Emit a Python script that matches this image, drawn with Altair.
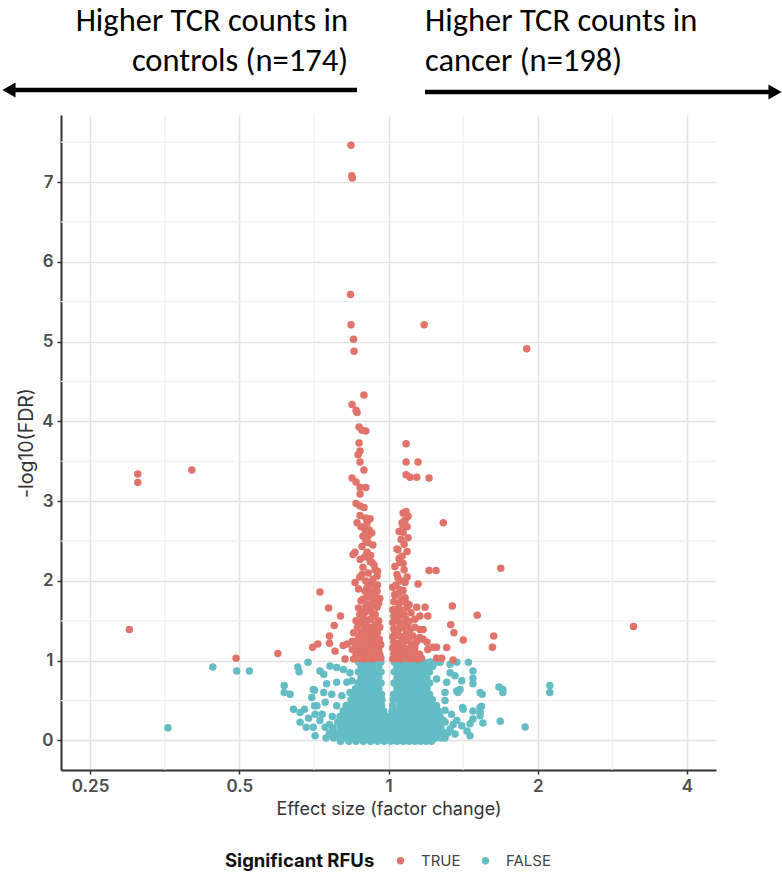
import altair as alt
import pandas as pd

# ---------------- axis breaks / domains ----------------
x_major = [0.25, 0.5, 1, 2, 4]
x_minor = [0.3536, 0.7071, 1.4142, 2.8284]
y_major = [0, 1, 2, 3, 4, 5, 6, 7]
y_minor = [0.5, 1.5, 2.5, 3.5, 4.5, 5.5, 6.5, 7.5]
x_domain = [0.2184, 4.577]
y_domain = [-0.37, 7.84]

sig_levels = ["TRUE", "FALSE"]
sig_colors = ["#E0736A", "#64BDC4"]

# ---------------- significant RFUs (effect size, -log10 FDR) ----------------
sig_top = [
    (0.840, 7.46), (0.843, 7.08), (0.845, 7.05), (0.838, 5.59), (0.840, 5.21),
    (0.850, 5.03), (0.852, 4.88), (1.180, 5.21), (1.900, 4.91),
]
sig_left_stem = [
    (0.892, 4.33), (0.844, 4.21), (0.860, 4.14), (0.864, 4.11), (0.872, 3.93), (0.884, 3.89),
    (0.900, 3.88), (0.872, 3.73), (0.876, 3.63), (0.868, 3.58), (0.876, 3.49), (0.892, 3.39),
    (0.844, 3.29), (0.860, 3.24), (0.876, 3.17), (0.900, 3.17), (0.876, 3.09), (0.860, 2.97),
    (0.876, 2.94), (0.892, 2.92), (0.876, 2.82), (0.900, 2.79), (0.918, 2.78),
    (0.864, 2.73), (0.905, 2.73), (0.913, 2.64), (0.897, 2.64), (0.888, 2.56), (0.909, 2.56),
    (0.909, 2.48), (0.884, 2.43), (0.856, 2.36), (0.905, 2.36), (0.848, 2.33), (0.909, 2.31),
    (0.876, 2.27), (0.918, 2.24), (0.926, 2.23), (0.888, 2.17), (0.939, 2.14), (0.948, 2.06),
    (0.884, 2.08), (0.856, 1.98), (0.918, 1.96), (0.939, 1.92), (0.897, 1.87), (0.918, 1.86),
    (0.948, 1.87), (0.888, 1.77), (0.930, 1.77), (0.909, 1.71), (0.948, 1.67), (0.884, 1.61),
    (0.918, 1.52), (0.876, 1.48), (0.897, 1.39), (0.939, 1.43), (0.876, 1.31), (0.930, 1.31),
    (0.909, 1.23), (0.856, 1.24), (0.953, 1.18), (0.888, 1.14), (0.844, 1.24), (0.825, 1.21),
    (0.850, 1.02), (0.870, 1.03), (0.890, 1.02), (0.910, 1.03), (0.930, 1.02), (0.950, 1.04),
    (0.965, 1.03), (0.860, 1.08), (0.880, 1.10), (0.900, 1.09), (0.920, 1.08), (0.940, 1.10),
    (0.960, 1.08), (0.845, 1.14), (0.870, 1.15), (0.910, 1.16), (0.935, 1.15), (0.955, 1.14),
    (0.860, 1.20), (0.885, 1.22), (0.900, 1.20), (0.925, 1.21), (0.945, 1.22), (0.965, 1.20),
    (0.870, 1.28), (0.890, 1.30), (0.915, 1.27), (0.940, 1.29), (0.958, 1.27), (0.850, 1.35),
    (0.880, 1.36), (0.905, 1.35), (0.925, 1.37), (0.950, 1.35), (0.865, 1.42), (0.895, 1.44),
    (0.915, 1.42), (0.940, 1.45), (0.960, 1.42), (0.860, 1.50), (0.890, 1.53), (0.905, 1.50),
    (0.930, 1.55), (0.955, 1.50), (0.875, 1.58), (0.895, 1.60), (0.920, 1.62), (0.940, 1.58),
    (0.870, 1.66), (0.900, 1.68), (0.925, 1.70), (0.955, 1.72), (0.880, 1.75), (0.905, 1.80),
    (0.935, 1.82), (0.960, 1.78), (0.870, 1.90), (0.905, 1.92), (0.950, 1.95), (0.900, 2.00),
    (0.930, 2.02), (0.875, 2.05), (0.910, 2.10), (0.950, 2.12), (0.935, 2.20), (0.895, 2.30),
    (0.920, 2.32), (0.930, 2.45), (0.900, 2.50), (0.925, 2.60), (0.880, 2.68),
]
sig_right_stem = [
    (1.085, 3.72), (1.085, 3.49), (1.147, 3.49), (1.085, 3.33), (1.105, 3.30), (1.140, 3.30),
    (1.207, 3.29), (1.085, 2.87), (1.095, 2.81), (1.070, 2.68),
    (1.065, 2.73), (1.090, 2.68), (1.070, 2.61), (1.095, 2.54), (1.075, 2.46), (1.045, 2.39),
    (1.090, 2.37), (1.065, 2.31), (1.055, 2.23), (1.075, 2.14), (1.045, 2.04), (1.080, 1.98),
    (1.055, 1.89), (1.030, 1.83), (1.080, 1.79), (1.050, 1.71), (1.090, 1.67), (1.040, 1.58),
    (1.085, 1.52), (1.055, 1.43), (1.030, 1.36), (1.105, 1.39), (1.070, 1.27), (1.040, 1.18),
    (1.115, 1.21), (1.140, 1.67), (1.157, 1.56), (1.130, 1.52), (1.174, 1.39), (1.157, 1.29),
    (1.196, 1.23), (1.230, 1.17),
    (1.020, 1.02), (1.040, 1.03), (1.060, 1.02), (1.080, 1.04), (1.100, 1.02), (1.120, 1.03),
    (1.140, 1.02), (1.165, 1.03), (1.025, 1.09), (1.050, 1.10), (1.070, 1.08), (1.090, 1.10),
    (1.110, 1.09), (1.130, 1.11), (1.155, 1.08), (1.020, 1.16), (1.045, 1.15), (1.065, 1.17),
    (1.085, 1.15), (1.105, 1.16), (1.130, 1.17), (1.025, 1.23), (1.050, 1.22), (1.075, 1.24),
    (1.095, 1.25), (1.140, 1.24), (1.020, 1.30), (1.040, 1.32), (1.060, 1.30), (1.085, 1.33),
    (1.120, 1.31), (1.025, 1.40), (1.045, 1.38), (1.070, 1.41), (1.090, 1.44), (1.130, 1.42),
    (1.020, 1.48), (1.040, 1.50), (1.065, 1.47), (1.100, 1.49), (1.025, 1.56), (1.050, 1.55),
    (1.075, 1.58), (1.110, 1.60), (1.020, 1.64), (1.045, 1.65), (1.070, 1.63), (1.100, 1.70),
    (1.025, 1.74), (1.060, 1.76), (1.085, 1.73), (1.030, 1.82), (1.050, 1.85), (1.070, 1.88),
    (1.020, 1.92), (1.035, 1.95), (1.060, 2.00), (1.090, 2.05), (1.040, 2.08), (1.030, 2.18),
    (1.070, 2.22), (1.050, 2.28), (1.040, 2.40), (1.060, 2.52), (1.050, 2.62), (1.080, 2.76),
    (1.070, 2.85),
]
sig_scatter = [
    (0.312, 3.34), (0.312, 3.235), (0.401, 3.39), (0.300, 1.39), (0.4925, 1.03), (0.598, 1.09),
    (0.703, 1.17), (0.720, 1.21), (0.727, 1.86), (0.757, 1.66), (0.800, 1.56), (0.777, 1.44),
    (0.760, 1.31), (0.760, 1.22), (0.780, 1.12), (0.810, 1.19), (0.817, 1.02), (0.848, 1.24),
    (1.684, 2.16), (1.630, 1.31), (1.620, 1.17), (3.120, 1.43), (1.207, 2.13), (1.247, 2.13),
    (1.290, 2.73), (1.147, 1.96), (1.185, 1.67), (1.345, 1.685), (1.510, 1.57), (1.335, 1.45),
    (1.355, 1.35), (1.415, 1.26), (1.310, 1.165), (1.350, 1.01), (1.280, 1.03), (1.200, 1.56),
    (1.250, 1.17), (1.250, 1.03), (1.200, 1.14), (1.174, 1.27), (1.157, 1.39),
]

# ---------------- non-significant RFUs ----------------
nonsig_core = {
    0.985: [0.870, 0.893, 0.918, 0.944, 0.965, 1.027, 1.055, 1.086, 1.115, 1.146, 1.178, 1.212, 1.245],
    0.93: [0.880, 0.905, 0.930, 0.955, 1.040, 1.070, 1.100, 1.131, 1.163, 1.195, 1.228],
    0.86: [0.869, 0.892, 0.918, 0.944, 0.966, 1.027, 1.055, 1.085, 1.115, 1.147, 1.179, 1.210],
    0.79: [0.880, 0.905, 0.931, 0.955, 1.040, 1.070, 1.100, 1.131, 1.163, 1.195],
    0.72: [0.868, 0.892, 0.918, 0.944, 0.966, 1.026, 1.055, 1.085, 1.115, 1.147, 1.179, 1.210],
    0.65: [0.858, 0.880, 0.905, 0.931, 0.955, 1.040, 1.070, 1.100, 1.131, 1.163, 1.195],
    0.58: [0.850, 0.868, 0.892, 0.918, 0.944, 0.968, 1.024, 1.055, 1.085, 1.115, 1.147, 1.179, 1.210],
    0.51: [0.840, 0.858, 0.880, 0.905, 0.931, 0.955, 0.970, 1.022, 1.040, 1.070, 1.100, 1.131, 1.163,
           1.195, 1.225],
    0.44: [0.821, 0.844, 0.868, 0.892, 0.918, 0.944, 0.968, 1.020, 1.055, 1.085, 1.115, 1.147, 1.179,
           1.210, 1.245],
    0.37: [0.810, 0.832, 0.856, 0.880, 0.905, 0.931, 0.955, 0.978, 1.016, 1.040, 1.070, 1.100, 1.131,
           1.163, 1.195, 1.228, 1.260],
    0.30: [0.798, 0.821, 0.844, 0.868, 0.892, 0.918, 0.944, 0.968, 0.990, 1.012, 1.035, 1.055, 1.085,
           1.115, 1.147, 1.179, 1.210, 1.245, 1.270],
    0.23: [0.790, 0.810, 0.832, 0.856, 0.880, 0.905, 0.931, 0.955, 0.978, 1.000, 1.022, 1.045, 1.070,
           1.100, 1.131, 1.163, 1.195, 1.228, 1.260, 1.300],
    0.16: [0.772, 0.798, 0.821, 0.844, 0.868, 0.892, 0.918, 0.944, 0.968, 0.990, 1.012, 1.035, 1.055,
           1.085, 1.115, 1.147, 1.179, 1.210, 1.245, 1.275],
    0.09: [0.760, 0.785, 0.810, 0.832, 0.856, 0.880, 0.905, 0.931, 0.955, 0.978, 1.000, 1.022, 1.045,
           1.070, 1.100, 1.131, 1.163, 1.195, 1.228, 1.260, 1.290, 1.315],
    0.03: [0.748, 0.775, 0.798, 0.821, 0.844, 0.868, 0.892, 0.918, 0.944, 0.968, 0.990, 1.012, 1.035,
           1.055, 1.085, 1.115, 1.147, 1.179, 1.210, 1.245, 1.275, 1.300],
    -0.01: [0.800, 0.832, 0.860, 0.890, 0.920, 0.950, 0.980, 1.010, 1.040, 1.070, 1.100, 1.130,
            1.160, 1.190, 1.220],
}
nonsig_scatter = [
    (0.359, 0.16), (0.442, 0.92), (0.494, 0.87), (0.524, 0.87), (0.616, 0.69), (0.616, 0.60),
    (0.633, 0.58), (0.656, 0.92), (0.660, 0.86), (0.688, 0.98), (0.643, 0.39), (0.663, 0.35),
    (0.677, 0.39), (0.709, 0.435), (0.711, 0.33), (0.709, 0.63), (0.700, 0.54), (0.663, 0.23),
    (0.682, 0.165), (0.705, 0.165), (0.711, 0.06), (0.727, 0.87), (0.740, 0.83), (0.762, 0.935),
    (0.786, 0.915), (0.811, 0.89), (0.836, 0.85), (0.750, 0.71), (0.786, 0.73), (0.824, 0.73),
    (0.843, 0.75), (0.740, 0.60), (0.768, 0.58), (0.805, 0.56), (0.836, 0.60), (0.705, 0.64),
    (0.745, 0.48), (0.786, 0.435), (0.717, 0.435), (0.727, 0.25), (0.745, 0.165), (0.762, 0.08),
    (0.690, 0.28), (0.735, 0.33), (0.770, 0.30), (0.760, 0.20),
    (1.270, 0.98), (1.331, 0.955), (1.373, 0.98), (1.449, 0.98), (1.331, 0.85), (1.362, 0.81),
    (1.480, 0.87), (1.480, 0.78), (1.250, 0.77), (1.310, 0.73), (1.405, 0.75), (1.480, 0.71),
    (1.300, 0.60), (1.373, 0.62), (1.394, 0.64), (1.380, 0.60), (1.530, 0.60), (1.545, 0.58),
    (1.300, 0.50), (1.250, 0.435), (1.415, 0.39), (1.480, 0.37), (1.530, 0.415), (1.540, 0.43),
    (1.340, 0.33), (1.290, 0.25), (1.373, 0.25), (1.405, 0.185), (1.460, 0.21), (1.440, 0.12),
    (1.460, 0.06), (1.530, 0.31), (1.530, 0.35), (1.480, 0.27), (1.550, 0.22), (1.680, 0.24),
    (1.670, 0.67), (1.700, 0.64), (1.700, 0.60), (1.886, 0.17), (2.115, 0.69), (2.115, 0.60),
    (1.331, 0.145), (1.362, 0.08), (1.290, 0.10), (1.410, 0.415), (1.300, 0.38), (1.350, 0.20),
]

# ---------------- annotation texts ----------------
left_note = ["Higher TCR counts in", "controls (n=174)"]
right_note = ["Higher TCR counts in", "cancer (n=198)"]

# ---------------- build table ----------------
records = []
for fc, y in nonsig_scatter:
    records.append({"fc": fc, "nlfdr": y, "sig": "FALSE"})
for y, xs in nonsig_core.items():
    for fc in xs:
        records.append({"fc": fc, "nlfdr": y, "sig": "FALSE"})
for group in (sig_scatter, sig_left_stem, sig_right_stem, sig_top):
    for fc, y in group:
        records.append({"fc": fc, "nlfdr": y, "sig": "TRUE"})
df = pd.DataFrame(records)

xscale = alt.Scale(type="log", base=2, domain=x_domain, nice=False)
yscale = alt.Scale(domain=y_domain, nice=False, zero=False)

AX_FONT = "Inter"
common_axis = dict(
    grid=True, gridColor="#e2e2e2", gridWidth=1.5,
    domainColor="#333333", domainWidth=2,
    ticks=True, tickSize=4, tickColor="#333333", tickWidth=1.5,
    labelFont=AX_FONT, labelFontSize=17, labelColor="#4d4d4d", labelFontWeight=600,
    titleFont=AX_FONT, titleColor="#333333", titleFontWeight="normal",
)
x_axis = alt.Axis(values=x_major, format="~g", title="Effect size (factor change)",
                  labelPadding=4, titlePadding=6, titleFontSize=18, **common_axis)
y_axis = alt.Axis(values=y_major, format="d", title="-log10(FDR)",
                  labelPadding=4, titlePadding=5, titleFontSize=19.5, **common_axis)

x_minor_layer = alt.Chart(pd.DataFrame({"fc": x_minor})).mark_rule(
    color="#efefef", strokeWidth=1.2
).encode(x=alt.X("fc:Q", scale=xscale, axis=x_axis))

y_minor_layer = alt.Chart(pd.DataFrame({"nlfdr": y_minor})).mark_rule(
    color="#efefef", strokeWidth=1.2
).encode(y=alt.Y("nlfdr:Q", scale=yscale, axis=y_axis))

points = alt.Chart(df).mark_circle(size=56, opacity=1).encode(
    x=alt.X("fc:Q", scale=xscale, axis=x_axis),
    y=alt.Y("nlfdr:Q", scale=yscale, axis=y_axis),
    color=alt.Color(
        "sig:N",
        scale=alt.Scale(domain=sig_levels, range=sig_colors),
        legend=alt.Legend(
            title="Significant RFUs", orient="none", legendX=164, legendY=738,
            direction="horizontal", titleOrient="left",
            titleFont=AX_FONT, titleFontSize=18.5, titleFontWeight="bold", titleColor="#111111",
            labelFont=AX_FONT, labelFontSize=15, labelColor="#444444",
            symbolType="circle", symbolSize=55, symbolStrokeWidth=0,
            labelOffset=13, columnPadding=17, titlePadding=18,
        ),
    ),
)

one = alt.Data(values=[{"k": 1}])
NOTE_FONT = "Carlito, Lato"

def note(text, x, y, align):
    return alt.Chart(alt.Data(values=[{"t": text}])).mark_text(
        font=NOTE_FONT, fontSize=32.5, align=align, baseline="alphabetic", color="#000000"
    ).encode(x=alt.value(x), y=alt.value(y), text="t:N")

notes = [
    note(left_note[0], 287, -84, "right"),
    note(left_note[1], 287, -44, "right"),
    note(right_note[0], 364, -84, "left"),
    note(right_note[1], 364, -44, "left"),
]

left_arrow = alt.Chart(one).mark_rule(color="#000000", strokeWidth=4.5).encode(
    x=alt.value(296), x2=alt.value(-50), y=alt.value(-25)
)
left_head = alt.Chart(one).mark_point(
    shape="triangle-left", filled=True, size=230, color="#000000", opacity=1
).encode(x=alt.value(-52), y=alt.value(-25))
right_arrow = alt.Chart(one).mark_rule(color="#000000", strokeWidth=4.5).encode(
    x=alt.value(364), x2=alt.value(712), y=alt.value(-23)
)
right_head = alt.Chart(one).mark_point(
    shape="triangle-right", filled=True, size=230, color="#000000", opacity=1
).encode(x=alt.value(714), y=alt.value(-23))

chart = alt.layer(
    x_minor_layer, y_minor_layer, points, *notes, left_arrow, left_head, right_arrow, right_head
).properties(
    width=655, height=655,
    autosize=alt.AutoSizeParams(type="none"),
    padding={"left": 61, "top": 115, "right": 66, "bottom": 105},
    background="white",
).configure_view(stroke=None)

chart.save("out.html", embed_options={"renderer": "svg", "actions": False})
